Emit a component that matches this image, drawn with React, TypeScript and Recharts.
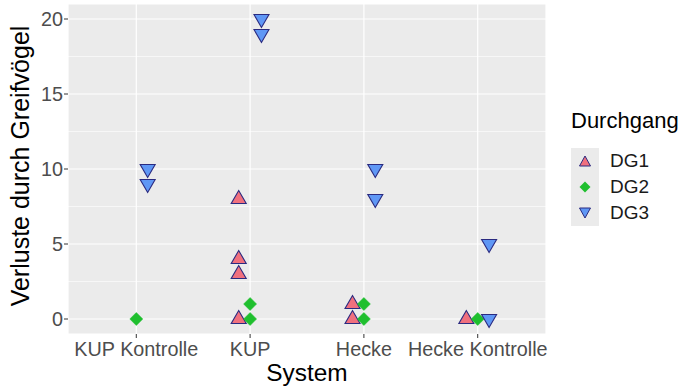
import React from "react";
import {
  ScatterChart,
  Scatter,
  XAxis,
  YAxis,
  CartesianGrid,
  ReferenceLine,
  Label,
} from "recharts";

const categories = ["KUP Kontrolle", "KUP", "Hecke", "Hecke Kontrolle"];
const yTicks = [0, 5, 10, 15, 20];
const yMinor = [2.5, 7.5, 12.5, 17.5];

const dg1Systems = ["KUP", "KUP", "KUP", "KUP", "Hecke", "Hecke", "Hecke Kontrolle"];
const dg1Values = [8, 4, 3, 0, 1, 0, 0];

const dg2Systems = ["KUP Kontrolle", "KUP", "KUP", "Hecke", "Hecke", "Hecke Kontrolle"];
const dg2Values = [0, 1, 0, 1, 0, 0];

const dg3Systems = ["KUP Kontrolle", "KUP Kontrolle", "KUP", "KUP", "Hecke", "Hecke", "Hecke Kontrolle", "Hecke Kontrolle"];
const dg3Values = [10, 9, 20, 19, 10, 8, 5, 0];

const seriesNames = ["DG1", "DG2", "DG3"];
const dodge = [-0.1, 0, 0.1];

const build = (systems: string[], values: number[], k: number) =>
  systems.map((s, i) => ({ x: categories.indexOf(s) + 1 + dodge[k], y: values[i] }));

const data1 = build(dg1Systems, dg1Values, 0);
const data2 = build(dg2Systems, dg2Values, 1);
const data3 = build(dg3Systems, dg3Values, 2);

const FONT = "'Liberation Sans', Arial, sans-serif";
const C1 = "#F0707E";
const C2 = "#1FBF2E";
const C3 = "#5F97F5";
const STROKE = "#2A2A80";

const TriUp = (props: any) => {
  const { cx, cy } = props;
  const s = 7.5;
  return (
    <polygon
      points={`${cx},${cy - 8.5} ${cx - s},${cy + 4.5} ${cx + s},${cy + 4.5}`}
      fill={C1}
      stroke={STROKE}
      strokeWidth={1.1}
    />
  );
};
const TriDown = (props: any) => {
  const { cx, cy } = props;
  const s = 7.5;
  return (
    <polygon
      points={`${cx},${cy + 8.5} ${cx - s},${cy - 4.5} ${cx + s},${cy - 4.5}`}
      fill={C3}
      stroke={STROKE}
      strokeWidth={1.1}
    />
  );
};
const Diamond = (props: any) => {
  const { cx, cy } = props;
  const s = 6.5;
  return (
    <polygon
      points={`${cx},${cy - s} ${cx + s},${cy} ${cx},${cy + s} ${cx - s},${cy}`}
      fill={C2}
      stroke={C2}
      strokeWidth={0.5}
    />
  );
};

const LegendContent = () => {
  const icons = [
    <polygon key="a" points="14,8 8.5,18 19.5,18" fill={C1} stroke={STROKE} strokeWidth={1} />,
    <polygon key="b" points="14,7.5 19.5,13 14,18.5 8.5,13" fill={C2} />,
    <polygon key="c" points="14,18 8.5,8 19.5,8" fill={C3} stroke={STROKE} strokeWidth={1} />,
  ];
  return (
    <div style={{ fontFamily: FONT }}>
      <div style={{ fontSize: 22, color: "#000", lineHeight: "26px", marginBottom: 14 }}>Durchgang</div>
      {seriesNames.map((n, i) => (
        <div key={n} style={{ display: "flex", alignItems: "center", height: 26 }}>
          <svg width={28} height={26} style={{ background: "#EBEBEB", display: "block" }}>
            {icons[i]}
          </svg>
          <span style={{ fontSize: 19, color: "#1A1A1A", marginLeft: 11 }}>{n}</span>
        </div>
      ))}
    </div>
  );
};

export default function App() {
  return (
    <div style={{ position: "absolute", left: 0, top: 0, width: 696, height: 388, background: "#fff" }}>
      <ScatterChart
        width={696}
        height={388}
        margin={{ top: 4, right: 150, bottom: 0, left: 0 }}
        style={{ fontFamily: FONT }}
      >
        <CartesianGrid
          fill="#EBEBEB"
          stroke="#FFFFFF"
          strokeWidth={1.2}
          horizontal={true}
          vertical={true}
        />
        {yMinor.map((v) => (
          <ReferenceLine key={v} y={v} stroke="#FFFFFF" strokeWidth={0.6} ifOverflow="hidden" />
        ))}
        <XAxis
          type="number"
          dataKey="x"
          domain={[0.4, 4.6]}
          ticks={[1, 2, 3, 4]}
          tickFormatter={(v: number) => categories[Math.round(v) - 1]}
          interval={0}
          height={54}
          axisLine={false}
          tickLine={{ stroke: "#333333" }}
          tickSize={4}
          tickMargin={4}
          tick={{ fill: "#4D4D4D", fontSize: 19.8, fontFamily: FONT }}
          allowDataOverflow
        >
          <Label value="System" position="insideBottom" offset={7} fill="#000" fontSize={24.4} fontFamily={FONT} />
        </XAxis>
        <YAxis
          type="number"
          dataKey="y"
          domain={[-1, 21]}
          ticks={yTicks}
          width={68}
          axisLine={false}
          tickLine={{ stroke: "#333333" }}
          tickSize={4}
          tickMargin={1}
          tick={{ fill: "#4D4D4D", fontSize: 19.8, fontFamily: FONT }}
          allowDataOverflow
        >
          <Label
            content={() => (
              <text
                x={29}
                y={166}
                transform="rotate(-90, 29, 166)"
                textAnchor="middle"
                fontSize={25}
                fontFamily={FONT}
                fill="#000"
              >
                Verluste durch Greifvögel
              </text>
            )}
          />
        </YAxis>
        <Scatter name="DG1" data={data1} shape={TriUp} isAnimationActive={false} />
        <Scatter name="DG2" data={data2} shape={Diamond} isAnimationActive={false} />
        <Scatter name="DG3" data={data3} shape={TriDown} isAnimationActive={false} />
      </ScatterChart>
      <div style={{ position: "absolute", left: 571, top: 108, width: 125 }}>
        <LegendContent />
      </div>
    </div>
  );
}
